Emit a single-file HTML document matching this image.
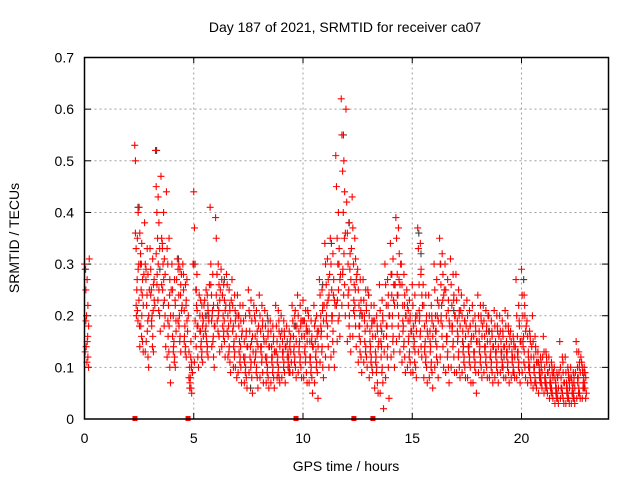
<!DOCTYPE html>
<html><head><meta charset="utf-8"><style>
body{margin:0;background:#fff}
svg{display:block;font-family:"Liberation Sans",sans-serif}
</style></head><body>
<svg id="chart" width="640" height="480">
<text x="345" y="32" text-anchor="middle" font-size="14" fill="#000">Day 187 of 2021, SRMTID for receiver ca07</text>
<text x="346" y="471" text-anchor="middle" font-size="14" fill="#000">GPS time / hours</text>
<text transform="translate(19,238) rotate(-90)" text-anchor="middle" font-size="14" fill="#000">SRMTID / TECUs</text>
<g id="grid"></g>
<g id="ticks"></g>
<g id="pts"></g>
<rect x="84.5" y="57.5" width="524" height="361.5" fill="none" stroke="#000" stroke-width="1.5"/>
</svg>
<script>
const xTicks=[0,5,10,15,20];
const yTicks=[0,0.1,0.2,0.3,0.4,0.5,0.6,0.7];
const yTickLabels=["0","0.1","0.2","0.3","0.4","0.5","0.6","0.7"];
const binStart=[0,2.3,2.5,2.75,3,3.25,3.5,3.75,4,4.25,4.5,4.75,5,5.25,5.5,5.75,6,6.25,6.5,6.75,7,7.25,7.5,7.75,8,8.25,8.5,8.75,9,9.25,9.5,9.75,10,10.25,10.5,10.75,11,11.25,11.5,11.75,12,12.25,12.5,12.75,13,13.25,13.5,13.75,14,14.25,14.5,14.75,15,15.25,15.5,15.75,16,16.25,16.5,16.75,17,17.25,17.5,17.75,18,18.25,18.5,18.75,19,19.25,19.5,19.75,20,20.25,20.5,20.75,21,21.25,21.5,21.75,22,22.25,22.5,22.75];
const binVals=[
[0.3,0.29,0.25,0.2,0.15,0.12,0.1,0.31],
[0.53,0.5,0.33,0.25,0.21,0.4,0.3,0.18],
[0.41,0.36,0.3,0.25,0.2,0.15,0.13,0.28],
[0.38,0.3,0.27,0.22,0.17,0.12,0.1,0.25],
[0.33,0.29,0.25,0.2,0.16,0.13,0.27,0.22],
[0.52,0.45,0.4,0.35,0.3,0.25,0.2,0.17],
[0.47,0.35,0.34,0.3,0.27,0.23,0.2,0.14],
[0.44,0.33,0.3,0.22,0.18,0.1,0.07,0.25],
[0.3,0.25,0.2,0.15,0.12,0.1,0.19,0.27],
[0.31,0.29,0.24,0.2,0.16,0.13,0.28,0.22],
[0.3,0.25,0.21,0.18,0.14,0.12,0.27,0.17],
[0.2,0.13,0.1,0.08,0.06,0.05,0.09,0.3],
[0.44,0.37,0.3,0.25,0.22,0.18,0.12,0.1],
[0.24,0.2,0.17,0.15,0.13,0.11,0.19,0.22],
[0.23,0.2,0.18,0.15,0.14,0.12,0.2,0.26],
[0.41,0.3,0.24,0.2,0.15,0.12,0.1,0.18],
[0.39,0.35,0.28,0.22,0.2,0.16,0.13,0.25],
[0.29,0.27,0.24,0.2,0.17,0.15,0.12,0.22],
[0.28,0.26,0.2,0.18,0.14,0.11,0.09,0.23],
[0.27,0.22,0.18,0.15,0.13,0.1,0.2,0.08],
[0.24,0.2,0.18,0.15,0.12,0.1,0.07,0.17],
[0.22,0.19,0.15,0.12,0.1,0.08,0.06,0.14],
[0.25,0.21,0.17,0.14,0.11,0.08,0.05,0.13],
[0.22,0.2,0.16,0.13,0.1,0.08,0.06,0.18],
[0.24,0.2,0.17,0.14,0.12,0.09,0.07,0.15],
[0.21,0.18,0.15,0.12,0.1,0.08,0.06,0.14],
[0.19,0.17,0.14,0.12,0.1,0.08,0.06,0.13],
[0.22,0.18,0.15,0.12,0.1,0.08,0.07,0.16],
[0.2,0.17,0.15,0.13,0.11,0.09,0.07,0.14],
[0.18,0.15,0.13,0.12,0.1,0.09,0.16,0.11],
[0.22,0.19,0.16,0.14,0.12,0.1,0.08,0.18],
[0.24,0.2,0.17,0.15,0.12,0.1,0.08,0.19],
[0.23,0.19,0.16,0.14,0.12,0.09,0.07,0.21],
[0.2,0.17,0.15,0.12,0.1,0.08,0.05,0.14],
[0.22,0.18,0.15,0.13,0.11,0.09,0.04,0.17],
[0.27,0.24,0.2,0.17,0.14,0.1,0.08,0.22],
[0.34,0.3,0.26,0.22,0.18,0.14,0.1,0.28],
[0.35,0.3,0.25,0.2,0.17,0.13,0.1,0.22],
[0.51,0.45,0.35,0.3,0.25,0.2,0.16,0.28],
[0.62,0.55,0.48,0.4,0.32,0.26,0.2,0.6],
[0.42,0.36,0.3,0.25,0.2,0.16,0.13,0.33],
[0.43,0.37,0.3,0.26,0.22,0.18,0.14,0.28],
[0.29,0.25,0.22,0.18,0.15,0.12,0.09,0.2],
[0.27,0.23,0.2,0.17,0.14,0.12,0.1,0.25],
[0.24,0.2,0.17,0.14,0.12,0.1,0.09,0.19],
[0.22,0.19,0.16,0.12,0.1,0.07,0.05,0.15],
[0.26,0.21,0.18,0.14,0.1,0.07,0.02,0.13],
[0.3,0.26,0.22,0.18,0.14,0.1,0.04,0.2],
[0.34,0.28,0.24,0.2,0.16,0.13,0.1,0.26],
[0.39,0.35,0.28,0.24,0.2,0.16,0.13,0.3],
[0.3,0.26,0.22,0.18,0.15,0.12,0.09,0.2],
[0.25,0.22,0.19,0.16,0.13,0.11,0.09,0.17],
[0.26,0.22,0.18,0.15,0.13,0.1,0.08,0.2],
[0.37,0.33,0.26,0.2,0.17,0.14,0.12,0.22],
[0.26,0.22,0.18,0.15,0.12,0.1,0.07,0.16],
[0.24,0.2,0.17,0.14,0.11,0.09,0.06,0.18],
[0.3,0.25,0.2,0.17,0.14,0.11,0.08,0.22],
[0.35,0.3,0.26,0.22,0.18,0.14,0.1,0.25],
[0.3,0.25,0.2,0.16,0.13,0.1,0.07,0.18],
[0.31,0.26,0.22,0.18,0.15,0.12,0.09,0.2],
[0.28,0.23,0.19,0.16,0.13,0.1,0.08,0.21],
[0.24,0.2,0.17,0.14,0.12,0.1,0.08,0.18],
[0.23,0.2,0.17,0.14,0.12,0.1,0.07,0.16],
[0.22,0.19,0.16,0.13,0.11,0.09,0.05,0.15],
[0.24,0.2,0.17,0.14,0.12,0.1,0.08,0.18],
[0.22,0.19,0.16,0.14,0.12,0.1,0.08,0.2],
[0.2,0.17,0.15,0.13,0.11,0.09,0.07,0.14],
[0.21,0.18,0.15,0.13,0.11,0.09,0.07,0.16],
[0.2,0.17,0.15,0.13,0.11,0.1,0.08,0.14],
[0.21,0.18,0.15,0.13,0.11,0.09,0.07,0.16],
[0.17,0.15,0.13,0.12,0.1,0.09,0.08,0.14],
[0.27,0.2,0.16,0.13,0.11,0.09,0.07,0.15],
[0.29,0.24,0.2,0.16,0.13,0.1,0.08,0.18],
[0.19,0.16,0.13,0.11,0.1,0.08,0.07,0.14],
[0.2,0.15,0.12,0.1,0.08,0.07,0.06,0.11],
[0.13,0.11,0.1,0.09,0.08,0.07,0.06,0.12],
[0.16,0.13,0.1,0.08,0.07,0.06,0.05,0.09],
[0.12,0.1,0.08,0.07,0.06,0.05,0.04,0.09],
[0.1,0.08,0.07,0.06,0.05,0.04,0.03,0.09],
[0.15,0.1,0.08,0.06,0.05,0.04,0.03,0.07],
[0.12,0.09,0.07,0.06,0.05,0.04,0.03,0.08],
[0.1,0.08,0.07,0.06,0.05,0.04,0.03,0.09],
[0.15,0.13,0.1,0.08,0.06,0.05,0.04,0.12],
[0.11,0.1,0.09,0.08,0.07,0.06,0.04,0.05]];
const binVals2=[
[0.27,0.22,0.18,0.14,0.11,0.16,0.13,0.19],
[0.35,0.29,0.23,0.2,0.27,0.19,0.36,0.22],
[0.34,0.27,0.22,0.18,0.16,0.24,0.14,0.32],
[0.33,0.28,0.2,0.15,0.24,0.19,0.13,0.29],
[0.31,0.26,0.23,0.18,0.14,0.21,0.24,0.19],
[0.43,0.38,0.33,0.28,0.23,0.21,0.32,0.26],
[0.4,0.31,0.28,0.25,0.22,0.18,0.26,0.33],
[0.35,0.27,0.2,0.16,0.13,0.24,0.12,0.19],
[0.27,0.22,0.17,0.14,0.11,0.23,0.16,0.13],
[0.29,0.26,0.21,0.18,0.15,0.24,0.19,0.3],
[0.26,0.23,0.19,0.16,0.13,0.22,0.28,0.15],
[0.15,0.11,0.09,0.07,0.12,0.1,0.08,0.06],
[0.25,0.21,0.18,0.16,0.14,0.28,0.11,0.19],
[0.22,0.18,0.16,0.14,0.12,0.2,0.17,0.23],
[0.24,0.21,0.19,0.16,0.13,0.22,0.17,0.25],
[0.28,0.22,0.18,0.14,0.21,0.16,0.26,0.19],
[0.3,0.26,0.23,0.19,0.17,0.21,0.24,0.28],
[0.26,0.23,0.21,0.18,0.16,0.19,0.14,0.24],
[0.25,0.21,0.19,0.16,0.13,0.22,0.17,0.12],
[0.24,0.19,0.16,0.14,0.12,0.21,0.17,0.1],
[0.22,0.19,0.16,0.13,0.11,0.14,0.09,0.2],
[0.2,0.17,0.14,0.11,0.09,0.16,0.12,0.07],
[0.23,0.19,0.16,0.12,0.1,0.15,0.09,0.2],
[0.21,0.17,0.14,0.12,0.09,0.15,0.11,0.19],
[0.22,0.19,0.16,0.13,0.11,0.18,0.08,0.14],
[0.2,0.17,0.14,0.11,0.09,0.16,0.12,0.07],
[0.18,0.16,0.13,0.11,0.09,0.15,0.07,0.12],
[0.21,0.17,0.14,0.11,0.09,0.19,0.13,0.08],
[0.19,0.16,0.14,0.12,0.1,0.17,0.08,0.13],
[0.17,0.15,0.13,0.11,0.09,0.14,0.12,0.1],
[0.2,0.18,0.15,0.13,0.11,0.21,0.09,0.16],
[0.22,0.19,0.16,0.14,0.11,0.18,0.09,0.13],
[0.21,0.18,0.15,0.13,0.11,0.17,0.08,0.19],
[0.19,0.16,0.14,0.11,0.09,0.15,0.07,0.12],
[0.2,0.17,0.14,0.12,0.1,0.16,0.07,0.19],
[0.25,0.22,0.19,0.16,0.13,0.21,0.11,0.18],
[0.31,0.27,0.24,0.2,0.16,0.23,0.12,0.19],
[0.32,0.27,0.23,0.19,0.15,0.24,0.12,0.2],
[0.4,0.33,0.27,0.23,0.19,0.3,0.22,0.15],
[0.5,0.44,0.36,0.29,0.24,0.35,0.22,0.28],
[0.38,0.32,0.27,0.22,0.18,0.29,0.15,0.24],
[0.35,0.31,0.27,0.23,0.2,0.25,0.16,0.21],
[0.27,0.23,0.2,0.16,0.13,0.21,0.11,0.18],
[0.25,0.21,0.18,0.15,0.13,0.22,0.11,0.19],
[0.22,0.19,0.16,0.13,0.11,0.18,0.08,0.15],
[0.2,0.17,0.14,0.11,0.09,0.18,0.06,0.13],
[0.23,0.19,0.16,0.12,0.09,0.2,0.05,0.15],
[0.27,0.24,0.2,0.16,0.12,0.22,0.08,0.18],
[0.31,0.26,0.22,0.18,0.15,0.23,0.12,0.28],
[0.37,0.32,0.26,0.22,0.18,0.27,0.15,0.24],
[0.28,0.24,0.2,0.17,0.14,0.22,0.11,0.19],
[0.23,0.2,0.17,0.15,0.12,0.19,0.1,0.21],
[0.24,0.2,0.17,0.14,0.11,0.19,0.09,0.16],
[0.34,0.29,0.24,0.19,0.16,0.28,0.13,0.21],
[0.24,0.2,0.17,0.14,0.11,0.19,0.08,0.13],
[0.22,0.19,0.16,0.13,0.1,0.2,0.08,0.15],
[0.27,0.23,0.19,0.15,0.12,0.2,0.1,0.17],
[0.32,0.28,0.24,0.2,0.16,0.23,0.12,0.19],
[0.27,0.23,0.19,0.15,0.12,0.21,0.09,0.16],
[0.28,0.24,0.2,0.17,0.14,0.23,0.1,0.18],
[0.25,0.21,0.18,0.15,0.12,0.2,0.09,0.17],
[0.22,0.19,0.16,0.13,0.11,0.19,0.09,0.15],
[0.21,0.18,0.15,0.13,0.11,0.18,0.08,0.14],
[0.2,0.17,0.15,0.12,0.1,0.18,0.07,0.13],
[0.22,0.19,0.16,0.13,0.11,0.2,0.09,0.15],
[0.21,0.18,0.15,0.13,0.11,0.17,0.09,0.14],
[0.19,0.16,0.14,0.12,0.1,0.17,0.08,0.12],
[0.2,0.17,0.14,0.12,0.1,0.18,0.08,0.13],
[0.19,0.16,0.14,0.12,0.1,0.17,0.09,0.13],
[0.2,0.17,0.14,0.12,0.1,0.18,0.08,0.13],
[0.16,0.14,0.12,0.11,0.09,0.15,0.08,0.12],
[0.22,0.18,0.15,0.12,0.1,0.19,0.08,0.13],
[0.24,0.2,0.17,0.14,0.11,0.22,0.09,0.15],
[0.17,0.15,0.12,0.1,0.09,0.16,0.07,0.12],
[0.16,0.13,0.11,0.09,0.07,0.14,0.06,0.1],
[0.12,0.1,0.09,0.08,0.07,0.11,0.05,0.09],
[0.13,0.11,0.09,0.07,0.06,0.12,0.05,0.08],
[0.11,0.09,0.08,0.06,0.05,0.1,0.04,0.07],
[0.09,0.08,0.06,0.05,0.04,0.08,0.03,0.06],
[0.12,0.09,0.07,0.06,0.05,0.11,0.04,0.06],
[0.1,0.08,0.07,0.05,0.04,0.09,0.03,0.06],
[0.09,0.08,0.06,0.05,0.04,0.07,0.03,0.05],
[0.13,0.11,0.09,0.07,0.05,0.1,0.04,0.08],
[0.1,0.09,0.08,0.07,0.06,0.09,0.04,0.06]];
const darkT=[0.05,2.45,2.6,3.3,3.45,4.3,5.0,5.6,6.4,7.6,8.4,9.6,10.2,10.9,11.3,11.85,12.1,12.6,13.0,13.6,14.2,15.3,15.4,16.3,16.9,17.3,18.5,19.2,20.1,21.3,22.2,22.8];
const darkV=[0.29,0.41,0.3,0.52,0.29,0.31,0.3,0.2,0.27,0.06,0.19,0.18,0.17,0.26,0.34,0.55,0.38,0.2,0.24,0.17,0.26,0.36,0.32,0.3,0.21,0.15,0.17,0.12,0.27,0.07,0.06,0.09];
const gapT=[2.31,4.74,9.68,12.33,13.2];
const X=t=>84.5+t*21.85, Y=v=>419-v*516.4;
const NS="http://www.w3.org/2000/svg";
const grid=document.getElementById('grid'),ticks=document.getElementById('ticks'),pts=document.getElementById('pts');
function mk(tag,at,parent){const e=document.createElementNS(NS,tag);for(const k in at)e.setAttribute(k,at[k]);parent.appendChild(e);return e;}
xTicks.forEach(t=>{const x=X(t);
 if(t>0){const l=mk('line',{x1:x,x2:x,y1:57.5,y2:419,stroke:'#a0a0a0','stroke-dasharray':'2,3'},grid);
 
 }
 const tx=mk('text',{x:x,y:443,'text-anchor':'middle','font-size':14},ticks);tx.textContent=t;
 
 
 mk('line',{x1:x,x2:x,y1:419,y2:413,stroke:'#000'},ticks);mk('line',{x1:x,x2:x,y1:57.5,y2:63,stroke:'#000'},ticks);});
yTicks.forEach((v,i)=>{const y=Y(v);
 if(v>0&&v<0.7){const l=mk('line',{x1:84.5,x2:608.5,y1:y,y2:y,stroke:'#a0a0a0','stroke-dasharray':'2,3'},grid);
 
 }
 const tx=mk('text',{x:74,y:y+5,'text-anchor':'end','font-size':14},ticks);tx.textContent=yTickLabels[i];
 
 
 mk('line',{x1:84.5,x2:91,y1:y,y2:y,stroke:'#000'},ticks);mk('line',{x1:602,x2:608.5,y1:y,y2:y,stroke:'#000'},ticks);});
function plus(t,v,c){const x=X(t),y=Y(v);
 const p=mk('path',{d:`M${x-3.5} ${y}h7M${x} ${y-3.5}v7`,stroke:c,'stroke-width':1.1,fill:'none'},pts);
 
 }
darkT.forEach((t,i)=>plus(t,darkV[i],'#404040'));
binStart.forEach((s,i)=>binVals[i].forEach((v,j)=>plus(s+j*0.031,v,'#ff0000')));
binStart.forEach((s,i)=>binVals2[i].forEach((v,j)=>plus(s+0.12-j*0.015+(j%3)*0.05,v,'#ff0000')));
gapT.forEach(t=>{const r=mk('rect',{x:X(t)-2.5,y:416,width:5,height:5,fill:'#ff0000'},pts);
 
 });
</script>
</body></html>
